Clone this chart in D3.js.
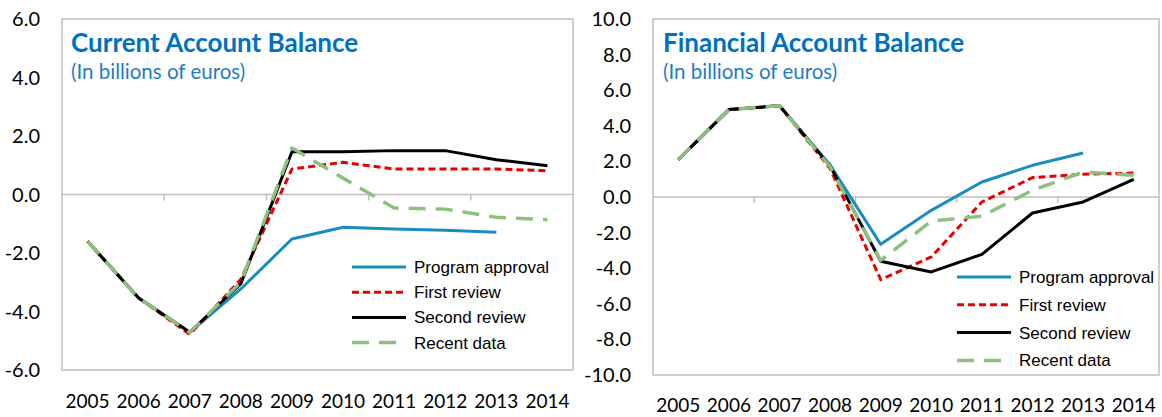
<!DOCTYPE html>
<html>
<head>
<meta charset="utf-8">
<script src="https://cdn.jsdelivr.net/npm/d3@7"></script>
<style>
  body { margin: 0; background: #fff; }
  svg { display: block; }
</style>
</head>
<body>
<div id="chart"></div>
<script>
// data (billions of euros)
const years = ["2005", "2006", "2007", "2008", "2009", "2010", "2011", "2012", "2013", "2014"];
const seriesNames = ["Program approval", "First review", "Second review", "Recent data"];

const caProgram = [-1.6, -3.54, -4.71, -3.23, -1.52, -1.12, -1.18, -1.22, -1.29, null];
const caFirst   = [-1.6, -3.54, -4.78, -2.9, 0.87, 1.1, 0.87, 0.87, 0.87, 0.81];
const caSecond  = [-1.6, -3.54, -4.71, -3.05, 1.46, 1.46, 1.5, 1.5, 1.19, 0.98];
const caRecent  = [-1.6, -3.54, -4.71, -3.0, 1.59, 0.56, -0.46, -0.5, -0.78, -0.86];

const faProgram = [2.1, 4.91, 5.13, 1.8, -2.66, -0.75, 0.84, 1.78, 2.47, null];
const faFirst   = [2.1, 4.91, 5.13, 1.6, -4.64, -3.37, -0.28, 1.09, 1.28, 1.35];
const faSecond  = [2.1, 4.91, 5.13, 1.75, -3.61, -4.21, -3.22, -0.9, -0.28, 0.99];
const faRecent  = [2.1, 4.91, 5.13, 1.7, -3.56, -1.35, -1.08, 0.38, 1.4, 1.22];

const caTicks = [-6, -4, -2, 0, 2, 4, 6];
const faTicks = [-10, -8, -6, -4, -2, 0, 2, 4, 6, 8, 10];

// styles per series
const lineStyles = [
  {color: "#1a8cc0", width: 3, dash: null},
  {color: "#e60000", width: 3, dash: "7,4"},
  {color: "#000000", width: 3, dash: null},
  {color: "#8dc07f", width: 3.5, dash: "17,10"}
];

const svg = d3.select("#chart").append("svg")
  .attr("width", 1162)
  .attr("height", 417);

const fmt = d3.format(".1f");

function drawPanel(p) {
  const x = d3.scaleBand().domain(years).range([p.left, p.right]);
  const y = d3.scaleLinear().domain([p.ticks[0], p.ticks[p.ticks.length - 1]]).range([p.bottom, p.top]);
  const g = svg.append("g");

  // plot frame
  g.append("rect")
    .attr("x", p.left).attr("y", p.top)
    .attr("width", p.right - p.left).attr("height", p.bottom - p.top)
    .attr("fill", "none").attr("stroke", "#bfbfbf").attr("stroke-width", 1.5);

  // y tick labels
  g.selectAll(".ytick").data(p.ticks).join("text")
    .attr("x", p.left - 22)
    .attr("y", d => y(d))
    .attr("dy", "0.35em")
    .attr("text-anchor", "end")
    .style("font-family", "Lato, 'Open Sans', sans-serif")
    .style("font-size", "20px")
    .attr("fill", "#000")
    .text(d => fmt(d).replace("\u2212", "-"));

  // zero line with category ticks
  g.append("line")
    .attr("x1", p.left).attr("x2", p.right)
    .attr("y1", y(0)).attr("y2", y(0))
    .attr("stroke", "#bfbfbf").attr("stroke-width", 1.5);
  const bounds = years.filter((d, i) => i > 0 && i % 2 === 0);
  g.selectAll(".xtick").data(bounds).join("line")
    .attr("x1", d => x(d)).attr("x2", d => x(d))
    .attr("y1", y(0)).attr("y2", y(0) + 6)
    .attr("stroke", "#bfbfbf").attr("stroke-width", 1.5);

  // year labels
  g.selectAll(".xlab").data(years).join("text")
    .attr("x", d => x(d) + x.bandwidth() / 2)
    .attr("y", p.bottom + p.labelGap)
    .attr("dy", "0.35em")
    .attr("text-anchor", "middle")
    .style("font-family", "Lato, 'Open Sans', sans-serif")
    .style("font-size", "19px")
    .attr("fill", "#000")
    .text(d => d);

  // lines
  const line = d3.line()
    .defined(d => d.v !== null)
    .x(d => x(d.year) + x.bandwidth() / 2)
    .y(d => y(d.v));
  p.series.forEach((vals, i) => {
    const st = lineStyles[i];
    g.append("path")
      .datum(years.map((yr, j) => ({year: yr, v: vals[j]})))
      .attr("d", line)
      .attr("fill", "none")
      .attr("stroke", st.color)
      .attr("stroke-width", st.width)
      .attr("stroke-dasharray", st.dash)
      .attr("stroke-linejoin", "round");
  });

  // title
  g.append("text")
    .attr("x", p.left + p.titleDx).attr("y", 52)
    .style("font-family", "Lato, sans-serif")
    .style("font-weight", "700")
    .style("font-size", "26px")
    .attr("fill", "#0070c0")
    .text(p.title);
  g.append("text")
    .attr("x", p.left + p.titleDx).attr("y", 79)
    .style("font-family", "Lato, sans-serif")
    .style("font-size", "20.5px")
    .attr("fill", "#1f7cc4")
    .text("(In billions of euros)");

  // legend
  const leg = g.append("g");
  seriesNames.forEach((name, i) => {
    const st = lineStyles[i];
    const ly = p.legY + i * p.legStep;
    leg.append("line")
      .attr("x1", p.legX).attr("x2", p.legX + 54)
      .attr("y1", ly).attr("y2", ly)
      .attr("stroke", st.color)
      .attr("stroke-width", st.width)
      .attr("stroke-dasharray", st.dash);
    leg.append("text")
      .attr("x", p.legX + 62).attr("y", ly)
      .attr("dy", "0.35em")
      .style("font-family", "'Liberation Sans', Arial, sans-serif")
      .style("font-size", "17px")
      .attr("fill", "#000")
      .text(name);
  });
}

drawPanel({
  title: "Current Account Balance",
  series: [caProgram, caFirst, caSecond, caRecent],
  ticks: caTicks,
  left: 62, right: 573, top: 19, bottom: 370,
  labelGap: 31, titleDx: 9,
  legX: 352, legY: 267, legStep: 25.2
});

drawPanel({
  title: "Financial Account Balance",
  series: [faProgram, faFirst, faSecond, faRecent],
  ticks: faTicks,
  left: 653, right: 1159, top: 19, bottom: 375,
  labelGap: 30, titleDx: 10,
  legX: 957, legY: 277, legStep: 27.8
});
</script>
</body>
</html>
